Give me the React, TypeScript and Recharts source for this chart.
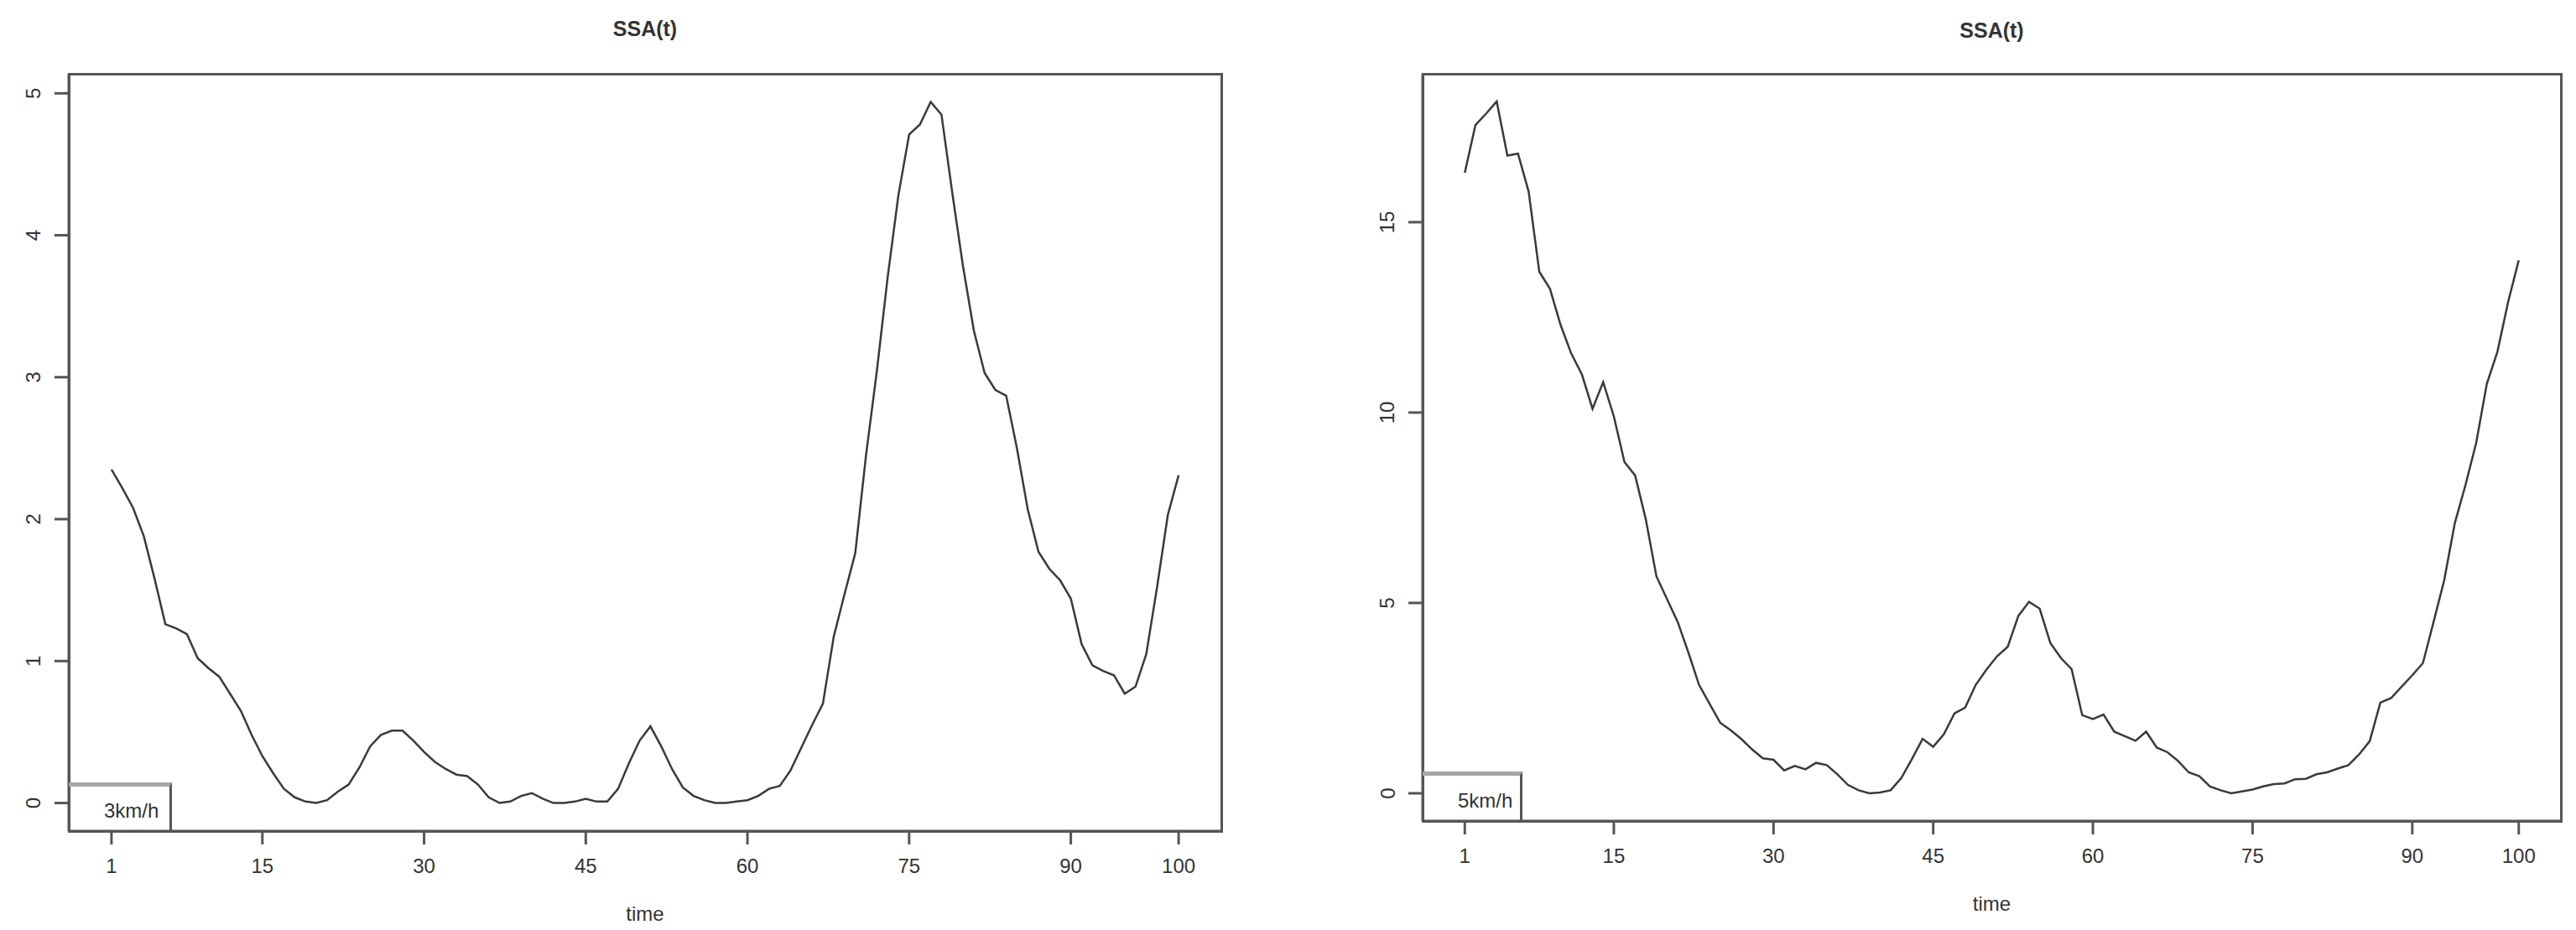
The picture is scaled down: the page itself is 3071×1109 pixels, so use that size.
import React from "react";
import { LineChart, Line, XAxis, YAxis } from "recharts";

// time index 1..100
const time = Array.from({ length: 100 }, (_, i) => i + 1);

const ssa3kmh = [
  2.35, 2.22, 2.08, 1.88, 1.58, 1.26, 1.23, 1.19, 1.02, 0.95,
  0.89, 0.77, 0.65, 0.48, 0.33, 0.21, 0.1, 0.04, 0.01, 0.0,
  0.02, 0.08, 0.13, 0.25, 0.4, 0.48, 0.51, 0.51, 0.44, 0.36,
  0.29, 0.24, 0.2, 0.19, 0.13, 0.04, 0.0, 0.01, 0.05, 0.07,
  0.03, 0.0, 0.0, 0.01, 0.03, 0.01, 0.01, 0.1, 0.28, 0.44,
  0.54, 0.4, 0.24, 0.11, 0.05, 0.02, 0.0, 0.0, 0.01, 0.02,
  0.05, 0.1, 0.12, 0.23, 0.39, 0.55, 0.7, 1.17, 1.47, 1.76,
  2.45, 3.04, 3.7, 4.28, 4.71, 4.78, 4.94, 4.85, 4.3, 3.78,
  3.33, 3.03, 2.91, 2.87, 2.5, 2.07, 1.77, 1.65, 1.57, 1.44,
  1.12, 0.97, 0.93, 0.9, 0.77, 0.82, 1.05, 1.52, 2.03, 2.31,
];

const ssa5kmh = [
  16.3, 17.55, 17.85, 18.17, 16.75, 16.8, 15.8, 13.7, 13.25, 12.3,
  11.55, 11.0, 10.1, 10.8, 9.9, 8.7, 8.35, 7.2, 5.7, 5.1,
  4.5, 3.7, 2.85, 2.35, 1.85, 1.65, 1.42, 1.15, 0.92, 0.88,
  0.6, 0.72, 0.63, 0.8, 0.74, 0.5, 0.22, 0.08, 0.0, 0.02,
  0.08, 0.4, 0.9, 1.43, 1.22, 1.55, 2.1, 2.25, 2.85, 3.25,
  3.6, 3.85, 4.66, 5.03, 4.85, 3.95, 3.55, 3.26, 2.05, 1.95,
  2.07, 1.62, 1.5, 1.38, 1.62, 1.2, 1.08, 0.85, 0.55, 0.45,
  0.18, 0.08, 0.0, 0.05, 0.1, 0.18, 0.24, 0.26, 0.37, 0.38,
  0.5, 0.55, 0.65, 0.74, 1.02, 1.37, 2.38, 2.5, 2.8, 3.1,
  3.42, 4.5, 5.6, 7.1, 8.1, 9.2, 10.75, 11.6, 12.9, 14.0,
];

const xTicks = [1, 15, 30, 45, 60, 75, 90, 100];
const yTicks3 = [0, 1, 2, 3, 4, 5];
const yTicks5 = [0, 5, 10, 15];

const FONT = "'Liberation Sans', Arial, sans-serif";
const INK = "#333";
const FRAME = "#555";
const H = 1109;

// R-style axis range: data range padded by 4% each side
const padded = (lo: number, hi: number): [number, number] => {
  const p = (hi - lo) * 0.04;
  return [lo - p, hi + p];
};

const YTick = ({ x, y, payload }: any) => (
  <text
    x={x - 23}
    y={y}
    transform={`rotate(-90 ${x - 23} ${y})`}
    textAnchor="middle"
    dominantBaseline="central"
    fontSize={24}
    fontFamily={FONT}
    fill={INK}
  >
    {payload.value}
  </text>
);

const Panel: React.FC<{
  values: number[];
  yTicks: number[];
  legend: string;
  left: number;
  width: number;
  margin: { top: number; right: number; bottom: number; left: number };
  legendBox: { width: number; height: number };
  titleY: number;
  xLabelY: number;
}> = ({ values, yTicks, legend, left, width, margin, legendBox, titleY, xLabelY }) => {
  const data = time.map((t, i) => ({ t, v: values[i] }));
  const xDomain = padded(time[0], time[time.length - 1]);
  const yDomain = padded(Math.min(...values), Math.max(...values));
  const plotLeft = margin.left + 60;
  const plotRight = width - margin.right;
  const plotTop = margin.top;
  const plotBottom = H - margin.bottom - 60;
  const cx = (plotLeft + plotRight) / 2;
  return (
    <div style={{ position: "absolute", left, top: 0, width, height: H }}>
      <LineChart width={width} height={H} data={data} margin={margin}>
        <XAxis
          dataKey="t"
          type="number"
          domain={xDomain}
          ticks={xTicks}
          allowDataOverflow
          height={60}
          tickSize={16}
          tickMargin={17}
          interval={0}
          axisLine={{ stroke: FRAME, strokeWidth: 3 }}
          tickLine={{ stroke: FRAME, strokeWidth: 3 }}
          tick={{ fontSize: 24, fontFamily: FONT, fill: INK }}
        />
        <YAxis
          type="number"
          domain={yDomain}
          ticks={yTicks}
          allowDataOverflow
          width={60}
          tickSize={17}
          interval={0}
          axisLine={{ stroke: FRAME, strokeWidth: 3 }}
          tickLine={{ stroke: FRAME, strokeWidth: 3 }}
          tick={<YTick />}
        />
        <Line
          dataKey="v"
          type="linear"
          stroke="#3a3a3a"
          strokeWidth={2.5}
          dot={false}
          isAnimationActive={false}
        />
      </LineChart>
      {/* plot frame (R box) */}
      <div
        style={{
          position: "absolute",
          left: plotLeft - 1.5,
          top: plotTop - 1.5,
          width: plotRight - plotLeft + 3,
          height: plotBottom - plotTop + 3,
          boxSizing: "border-box",
          border: `3px solid ${FRAME}`,
          pointerEvents: "none",
        }}
      />
      <div
        style={{
          position: "absolute",
          left: cx - 200,
          width: 400,
          top: titleY - 15,
          height: 30,
          lineHeight: "30px",
          textAlign: "center",
          fontFamily: FONT,
          fontWeight: "bold",
          fontSize: 25,
          color: INK,
        }}
      >
        SSA(t)
      </div>
      <div
        style={{
          position: "absolute",
          left: cx - 200,
          width: 400,
          top: xLabelY - 15,
          height: 30,
          lineHeight: "30px",
          textAlign: "center",
          fontFamily: FONT,
          fontSize: 24,
          color: INK,
        }}
      >
        time
      </div>
      <div
        style={{
          position: "absolute",
          left: plotLeft,
          top: plotBottom - legendBox.height,
          width: legendBox.width,
          height: legendBox.height,
          boxSizing: "border-box",
          borderTop: "5px solid #a6a6a6",
          borderRight: `3px solid ${FRAME}`,
          fontFamily: FONT,
          fontSize: 24,
          color: INK,
          paddingLeft: 42,
          lineHeight: `${legendBox.height}px`,
        }}
      >
        {legend}
      </div>
    </div>
  );
};

export default function App() {
  return (
    <div
      style={{
        position: "absolute",
        left: 0,
        top: 0,
        width: 3071,
        height: H,
        background: "#fff",
        overflow: "hidden",
      }}
    >
      <Panel
        values={ssa3kmh}
        yTicks={yTicks3}
        legend="3km/h"
        left={0}
        width={1536}
        margin={{ top: 88, right: 80, bottom: 58, left: 22 }}
        legendBox={{ width: 123, height: 58 }}
        titleY={34}
        xLabelY={1090}
      />
      <Panel
        values={ssa5kmh}
        yTicks={yTicks5}
        legend="5km/h"
        left={1536}
        width={1535}
        margin={{ top: 88, right: 18, bottom: 70, left: 100 }}
        legendBox={{ width: 119, height: 59 }}
        titleY={36}
        xLabelY={1078}
      />
    </div>
  );
}
